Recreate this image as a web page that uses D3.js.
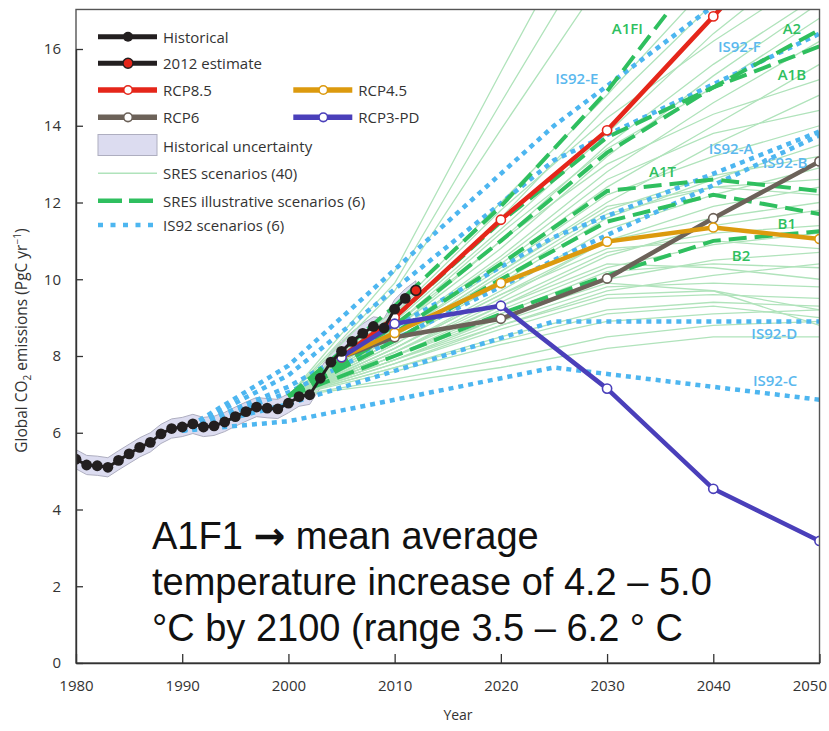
<!DOCTYPE html>
<html><head><meta charset="utf-8">
<script src="https://cdn.jsdelivr.net/npm/d3@7"></script>
<style>body{margin:0;background:#fff}svg{display:block}</style>
</head><body><svg id="c" width="829" height="731"></svg>
<script>
// ---------------- DATA ----------------
const histYears = d3.range(1980, 2012);
const histValues = [5.31,5.16,5.14,5.10,5.28,5.45,5.62,5.75,5.97,6.11,6.15,6.23,6.15,6.18,6.28,6.42,6.55,6.67,6.64,6.62,6.77,6.94,6.99,7.42,7.84,8.12,8.38,8.59,8.77,8.73,9.22,9.50];
const estimateYear = 2012;
const estimateValue = 9.71;
const uncertaintyHalfWidth = 0.25;

const rcpYears = [2005,2010,2020,2030,2040,2050];
const rcp85 = [7.97,9.00,11.55,13.88,16.85,19.80];
const rcp45 = [7.97,8.60,9.90,10.98,11.35,11.05];
const rcp6  = [7.97,8.49,8.97,10.02,11.59,13.07];
const rcp3pd = [7.97,8.84,9.31,7.15,4.54,3.18];

const sresYears = [2000,2010,2020,2030,2040,2050];
const sresScenarios = [
  [6.95,9.9,14.6,19.2,23.0,27.0],
  [6.95,10.2,15.4,20.5,25.0,29.0],
  [6.95,9.7,13.9,18.0,21.0,24.0],
  [6.95,9.2,12.0,14.8,17.8,20.5],
  [6.95,9.0,11.6,14.5,17.2,19.5],
  [6.95,8.9,11.3,13.8,16.4,18.6],
  [6.95,9.1,11.8,14.2,16.2,18.0],
  [6.95,8.8,11.0,13.5,15.6,17.4],
  [6.95,8.7,10.8,13.2,15.3,17.2],
  [6.95,8.8,11.2,13.4,15.0,16.8],
  [6.95,8.6,10.6,12.8,14.6,16.2],
  [6.95,8.5,10.4,12.4,14.0,15.6],
  [6.95,8.7,11.0,13.0,14.3,15.2],
  [6.95,8.4,10.2,12.0,13.5,14.8],
  [6.95,8.6,10.5,12.6,13.8,14.4],
  [6.95,8.5,10.3,12.2,13.2,14.0],
  [6.95,8.3,9.9,11.6,12.6,13.5],
  [6.95,8.4,10.1,11.8,12.7,13.2],
  [6.95,8.2,9.7,11.3,12.2,12.9],
  [6.95,8.3,10.0,11.7,12.4,12.6],
  [6.95,8.1,9.5,11.0,11.9,12.4],
  [6.95,8.4,10.2,11.9,12.4,12.2],
  [6.95,8.2,9.6,11.0,11.6,12.0],
  [6.95,8.0,9.3,10.6,11.4,11.8],
  [6.95,8.1,9.4,10.7,11.2,11.4],
  [6.95,8.0,9.2,10.3,10.9,11.2],
  [6.95,8.2,9.6,10.8,11.0,10.8],
  [6.95,7.9,9.0,10.0,10.5,10.7],
  [6.95,8.0,9.1,10.2,10.4,10.3],
  [6.95,7.8,8.8,9.7,10.1,10.4],
  [6.95,8.1,9.3,10.4,10.3,10.0],
  [6.95,7.9,8.9,9.8,9.9,9.8],
  [6.95,7.8,8.7,9.5,9.6,9.5],
  [6.95,7.7,8.5,9.2,9.4,9.3],
  [6.95,8.0,9.0,9.9,9.7,9.2],
  [6.95,7.6,8.3,8.9,9.1,9.2],
  [6.95,7.7,8.4,9.1,9.3,9.0],
  [6.95,7.9,8.8,9.6,9.7,8.8],
  [6.95,7.4,7.9,8.5,8.8,8.9],
  [6.95,7.3,7.7,8.2,8.5,8.5]
];

const illustrativeNames = ["A1FI","A2","A1B","A1T","B1","B2"];
const illA1FI = [6.95,9.3,11.9,14.9,18.5,22.0];
const illA2   = [6.95,8.8,11.0,13.3,15.0,16.5];
const illA1B  = [6.95,9.0,11.5,13.7,15.0,16.07];
const illA1T  = [6.95,8.6,10.4,12.3,12.6,12.3];
const illB1   = [6.95,8.4,10.0,11.5,12.2,11.7];
const illB2   = [6.95,8.0,9.1,10.1,11.0,11.25];

const is92Names = ["IS92-A","IS92-B","IS92-C","IS92-D","IS92-E","IS92-F"];
const is92Years = [1990,2000,2025,2050];
const is92A = [6.05,7.2,11.1,13.85];
const is92B = [6.05,7.05,10.5,13.75];
const is92C = [6.05,6.3,7.7,6.86];
const is92D = [6.05,6.75,8.9,8.9];
const is92E = [6.05,7.75,14.0,19.2];
const is92F = [6.05,7.5,13.1,16.4];

const xTicks = [1980,1990,2000,2010,2020,2030,2040,2050];
const yTicks = [0,2,4,6,8,10,12,14,16];

// ---------------- DRAWING ----------------
const svg = d3.select("#c");
const x = d3.scaleLinear().domain([1980,2050]).range([76,819.5]);
const y = d3.scaleLinear().domain([0,16]).range([663,49]);
const yTop = y(17.03);

const C = {
  hist:"#231f20", red:"#e5261a", orange:"#dc9a0e", brown:"#6c6259", purple:"#4a3fba",
  thin:"#b0e3bb", green:"#2fbf5f", blue:"#4db6f0", blueText:"#5ab8ee", band:"#dcdcf0", bandStroke:"#aeaec0"
};
const font = "'Open Sans','Noto Sans',sans-serif";

svg.append("defs").append("clipPath").attr("id","clip")
  .append("rect").attr("x",x(1980)).attr("y",yTop).attr("width",x(2050)-x(1980)).attr("height",y(0)-yTop);
const plot = svg.append("g").attr("clip-path","url(#clip)");

const line = (years) => d3.line().x((d,i)=>x(years[i])).y(d=>y(d));

// uncertainty band
const bandYears = histYears.concat([estimateYear]);
const bandVals = histValues.concat([estimateValue]);
plot.append("path")
  .attr("d", d3.area().x((d,i)=>x(bandYears[i])).y0(d=>y(d-uncertaintyHalfWidth)).y1(d=>y(d+uncertaintyHalfWidth))(bandVals))
  .attr("fill",C.band).attr("stroke",C.bandStroke).attr("stroke-width",1);

// SRES thin
plot.selectAll(".sres").data(sresScenarios).enter().append("path")
  .attr("d", d=>line(sresYears)(d)).attr("fill","none").attr("stroke",C.thin).attr("stroke-width",1.3);

// IS92 dotted
[is92A,is92B,is92C,is92D,is92E,is92F].forEach(s=>{
  plot.append("path").attr("d",line(is92Years)(s)).attr("fill","none")
    .attr("stroke",C.blue).attr("stroke-width",4.5).attr("stroke-dasharray","5,5");
});

// SRES illustrative dashed
[illA1FI,illA2,illA1B,illA1T,illB1,illB2].forEach(s=>{
  plot.append("path").attr("d",line(sresYears)(s)).attr("fill","none")
    .attr("stroke",C.green).attr("stroke-width",4).attr("stroke-dasharray","18,8");
});

// RCPs
const rcps = [[rcp6,C.brown],[rcp45,C.orange],[rcp85,C.red],[rcp3pd,C.purple]];
rcps.forEach(([s,col])=>{
  plot.append("path").attr("d",line(rcpYears)(s)).attr("fill","none")
    .attr("stroke",col).attr("stroke-width",4.5).attr("stroke-linejoin","round");
  plot.selectAll(null).data(s).enter().append("circle")
    .attr("cx",(d,i)=>x(rcpYears[i])).attr("cy",d=>y(d)).attr("r",4.6)
    .attr("fill","#fff").attr("stroke",col).attr("stroke-width",1.6);
});

// historical
plot.append("path").attr("d",line(histYears)(histValues)).attr("fill","none")
  .attr("stroke",C.hist).attr("stroke-width",3);
plot.selectAll(null).data(histValues).enter().append("circle")
  .attr("cx",(d,i)=>x(histYears[i])).attr("cy",d=>y(d)).attr("r",5.4).attr("fill",C.hist);
plot.append("circle").attr("cx",x(estimateYear)).attr("cy",y(estimateValue)).attr("r",5)
  .attr("fill",C.red).attr("stroke",C.hist).attr("stroke-width",1.6);

// scenario labels (data coordinates of label centres)
const labG = svg.append("g").attr("font-family",font).attr("font-size",15).attr("font-weight",600)
  .attr("text-anchor","middle").attr("dominant-baseline","central");
[["A1FI",2031.9,16.54,C.green],["A2",2047.4,16.54,C.green],["IS92-F",2042.45,16.09,C.blueText],
 ["A1B",2047.4,15.35,C.green],["IS92-E",2027.15,15.24,C.blueText],["IS92-A",2041.67,13.41,C.blueText],
 ["IS92-B",2046.76,13.05,C.blueText],["A1T",2035.22,12.82,C.green],["B1",2046.92,11.47,C.green],
 ["B2",2042.61,10.63,C.green],["IS92-D",2045.74,8.59,C.blueText],["IS92-C",2045.82,7.37,C.blueText]]
 .forEach(([t,yr,v,col])=>labG.append("text").attr("x",x(yr)).attr("y",y(v)).attr("fill",col).text(t));

// frame + axes
svg.append("rect").attr("x",x(1980)).attr("y",yTop).attr("width",x(2050)-x(1980)).attr("height",y(0)-yTop)
  .attr("fill","none").attr("stroke","#555").attr("stroke-width",1.4);
const axX = svg.append("g").attr("transform",`translate(0,${y(0)})`)
  .call(d3.axisBottom(x).tickValues(xTicks).tickFormat(d3.format("d")).tickSizeInner(-9).tickSizeOuter(0).tickPadding(17));
const axY = svg.append("g").attr("transform",`translate(${x(1980)},0)`)
  .call(d3.axisLeft(y).tickValues(yTicks).tickSizeInner(-7).tickSizeOuter(0).tickPadding(15));
[axX,axY].forEach(a=>{
  a.select(".domain").attr("stroke","#333").attr("stroke-width",1.4);
  a.selectAll(".tick line").attr("stroke","#333").attr("stroke-width",1.3);
  a.selectAll("text").attr("font-family",font).attr("font-size",15).attr("fill","#333");
});
// keep last x label inside the page
axX.selectAll(".tick text").each(function(){
  const w = this.getComputedTextLength(); const t = d3.select(this.parentNode).attr("transform");
  const cx = +t.match(/translate\(([-\d.]+)/)[1];
  if (cx + w/2 > 827) d3.select(this).attr("dx", 827 - (cx + w/2));
});

svg.append("text").attr("x",458).attr("y",720).attr("text-anchor","middle").attr("font-family",font)
  .attr("font-size",14).attr("fill","#333").text("Year");
const yl = svg.append("text").attr("transform",`translate(27,${y(8.4)}) rotate(-90)`).attr("text-anchor","middle")
  .attr("font-family",font).attr("font-size",15.5).attr("fill","#333");
yl.append("tspan").text("Global CO");
yl.append("tspan").attr("font-size",10).attr("dy",4).text("2");
yl.append("tspan").attr("dy",-4).text(" emissions (PgC yr");
yl.append("tspan").attr("font-size",10).attr("dy",-6).text("−1");
yl.append("tspan").attr("dy",6).text(")");

// legend
const lg = svg.append("g").attr("font-family",font).attr("font-size",15).attr("fill","#333");
function legLine(x0,yy,col,w,dash){
  lg.append("line").attr("x1",x0).attr("x2",x0+59).attr("y1",yy).attr("y2",yy)
    .attr("stroke",col).attr("stroke-width",w).attr("stroke-dasharray",dash||null);
}
function legText(x0,yy,t){ lg.append("text").attr("x",x0+65).attr("y",yy).attr("dominant-baseline","central").text(t); }
legLine(98,36.7,C.hist,5); lg.append("circle").attr("cx",128).attr("cy",36.7).attr("r",5).attr("fill",C.hist); legText(98,36.7,"Historical");
legLine(98,63.3,C.hist,5); lg.append("circle").attr("cx",128).attr("cy",63.3).attr("r",5).attr("fill",C.red).attr("stroke",C.hist).attr("stroke-width",1.5); legText(98,63.3,"2012 estimate");
[[98,90,C.red,"RCP8.5"],[98,117.3,C.brown,"RCP6"],[293.3,90,C.orange,"RCP4.5"],[293.3,117.3,C.purple,"RCP3-PD"]].forEach(([x0,yy,col,t])=>{
  legLine(x0,yy,col,5.5);
  lg.append("circle").attr("cx",x0+30).attr("cy",yy).attr("r",4.3).attr("fill","#fff").attr("stroke",col).attr("stroke-width",1.6);
  legText(x0,yy,t);
});
lg.append("rect").attr("x",98).attr("y",134.5).attr("width",59).attr("height",21).attr("fill",C.band).attr("stroke",C.bandStroke);
legText(98,146,"Historical uncertainty");
legLine(98,173.3,C.thin,1.5); legText(98,173.3,"SRES scenarios (40)");
legLine(98,200.7,C.green,4.5,"24,7"); legText(98,200.7,"SRES illustrative scenarios (6)");
legLine(98,225,C.blue,4.5,"5,7.5"); legText(98,225,"IS92 scenarios (6)");

// annotation
const ann = svg.append("text").attr("font-family","'Liberation Sans',Arial,sans-serif").attr("font-size",38).attr("fill","#111");
const l1 = ann.append("tspan").attr("x",152).attr("y",549);
l1.append("tspan").text("A1F1 ");
l1.append("tspan").attr("font-family","'DejaVu Sans',sans-serif").attr("font-weight","bold").attr("font-size",38).text("\u2192");
l1.append("tspan").text(" mean average");
["temperature increase of 4.2 \u2013 5.0","\u00b0C by 2100 (range 3.5 \u2013 6.2 \u00b0 C"]
  .forEach((t,i)=>ann.append("tspan").attr("x",152).attr("y",595+i*46).text(t));
</script></body></html>
